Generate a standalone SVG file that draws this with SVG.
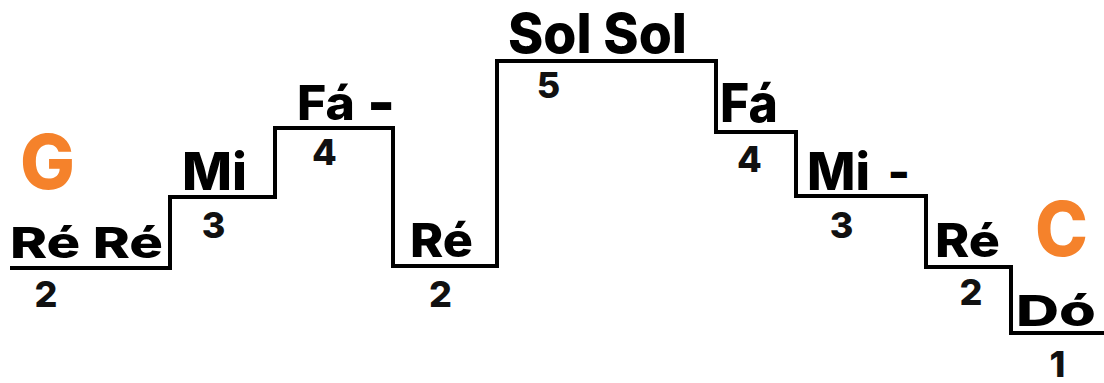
<svg xmlns="http://www.w3.org/2000/svg" width="1104" height="383" viewBox="0 0 1104 383">
<style>
.note{font-family:"Inter","Lato","Liberation Sans",sans-serif;font-weight:800;fill:#000;}
.num{font-family:"Inter","Lato","Liberation Sans",sans-serif;font-weight:800;fill:#111;font-size:36px;text-anchor:middle;}
.key{font-family:"Inter","Lato","Liberation Sans",sans-serif;font-weight:800;fill:#F5822B;font-size:76px;}
.stair{fill:none;stroke:#000;stroke-width:4;stroke-linejoin:miter;stroke-linecap:butt;}
</style>
<rect width="1104" height="383" fill="#fff"/>
<g id="connectors">
<path class="stair" d="M10,268 H170 V197 H275 V128 H393 V266 H497 V61 H716 V132 H796 V196 H926 V267 H1011 V333 H1104"/>
</g>
<g id="key-G"><text class="key" x="20" y="189" textLength="55" lengthAdjust="spacingAndGlyphs">G</text></g>
<g id="key-C"><text class="key" x="1035" y="256" textLength="53" lengthAdjust="spacingAndGlyphs">C</text></g>
<g id="step-1"><text class="note" x="10" y="258" font-size="43" textLength="153" lengthAdjust="spacingAndGlyphs">Ré Ré</text><text class="num" x="46" y="307">2</text></g>
<g id="step-2"><text class="note" x="182" y="190" font-size="52" textLength="65" lengthAdjust="spacingAndGlyphs">Mi</text><text class="num" x="213.5" y="238">3</text></g>
<g id="step-3"><text class="note" x="297" y="120" font-size="48"><tspan textLength="58" lengthAdjust="spacingAndGlyphs">Fá</tspan><tspan x="367" y="124" font-size="60">-</tspan></text><text class="num" x="324.5" y="165">4</text></g>
<g id="step-4"><text class="note" x="410" y="257" font-size="47" textLength="63" lengthAdjust="spacingAndGlyphs">Ré</text><text class="num" x="440.5" y="307">2</text></g>
<g id="step-5"><text class="note" x="508" y="53" font-size="55" textLength="179" lengthAdjust="spacingAndGlyphs">Sol Sol</text><text class="num" x="548.5" y="98">5</text></g>
<g id="step-6"><text class="note" x="720" y="122" font-size="53" textLength="58" lengthAdjust="spacingAndGlyphs">Fá</text><text class="num" x="749.5" y="172">4</text></g>
<g id="step-7"><text class="note" x="807" y="190" font-size="52"><tspan textLength="63" lengthAdjust="spacingAndGlyphs">Mi</tspan><tspan x="887.5" y="189" font-size="48">-</tspan></text><text class="num" x="841.5" y="238">3</text></g>
<g id="step-8"><text class="note" x="935" y="257" font-size="46" textLength="65" lengthAdjust="spacingAndGlyphs">Ré</text><text class="num" x="971" y="305">2</text></g>
<g id="step-9"><text class="note" x="1016" y="326" font-size="43" textLength="80" lengthAdjust="spacingAndGlyphs">Dó</text><text class="num" x="1057.5" y="377">1</text></g>
</svg>
